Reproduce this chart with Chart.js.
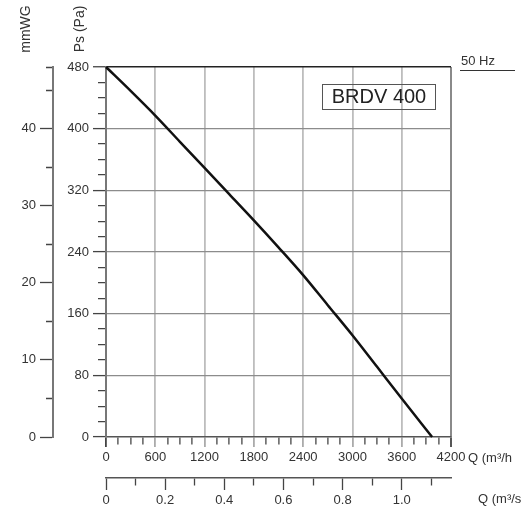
<!DOCTYPE html>
<html>
<head>
<meta charset="utf-8">
<script src="https://cdn.jsdelivr.net/npm/chart.js@4"></script>
<style>
html,body{margin:0;padding:0;background:#fff;}
#wrap{position:relative;width:525px;height:507px;}
</style>
</head>
<body>
<div id="wrap"><canvas id="c"></canvas></div>
<script>
// ---- data ----
const flowM3h   = [0, 300, 600, 900, 1200, 1500, 1800, 2100, 2400, 2700, 3000, 3300, 3600, 3970];
const pressurePa = [480, 449, 417, 383, 349, 315, 281, 246, 210, 171, 132, 91, 50, 0];
const flowTickLabels = [0, 600, 1200, 1800, 2400, 3000, 3600, 4200];
const paTickLabels = [0, 80, 160, 240, 320, 400, 480];
const mmwgTickLabels = [0, 10, 20, 30, 40];
const m3sTickLabels = ['0', '0.2', '0.4', '0.6', '0.8', '1.0'];
const modelName = 'BRDV 400';
const freqLabel = '50 Hz';

const FONT = "'Liberation Sans', Arial, sans-serif";
const TXT = '#333';
const TICK = '#444';

const points = flowM3h.map((x, i) => ({x: x, y: pressurePa[i]}));

const textPlugin = {
  id: 'texts',
  afterDraw(chart) {
    const ctx = chart.ctx;
    const ca = chart.chartArea;
    ctx.save();
    ctx.fillStyle = TXT;
    // rotated axis titles
    ctx.font = '14px ' + FONT;
    ctx.textAlign = 'center';
    ctx.textBaseline = 'middle';
    [['mmWG', 26, 29], ['Ps (Pa)', 80, 29]].forEach(([t, x, y]) => {
      ctx.save(); ctx.translate(x, y); ctx.rotate(-Math.PI / 2); ctx.fillText(t, 0, 0); ctx.restore();
    });
    // Q labels
    ctx.font = '13px ' + FONT;
    ctx.textAlign = 'left';
    ctx.fillText('Q (m³/h', 468, 458);
    ctx.fillText('Q (m³/s', 478, 499);
    // 50 Hz with underline
    ctx.fillText(freqLabel, 461, 61);
    ctx.strokeStyle = '#333';
    ctx.lineWidth = 1;
    ctx.beginPath(); ctx.moveTo(460, 70.5); ctx.lineTo(515, 70.5); ctx.stroke();
    // model box
    ctx.strokeStyle = '#555';
    ctx.lineWidth = 1;
    ctx.strokeRect(322.5, 84.5, 113, 25);
    ctx.fillStyle = '#222';
    ctx.font = '20px ' + FONT;
    ctx.textAlign = 'center';
    ctx.fillText(modelName, 379, 97.5);
    ctx.restore();
  }
};

const isMult = (v, m) => Math.abs(v / m - Math.round(v / m)) < 1e-6;

new Chart(document.getElementById('c'), {
  type: 'line',
  data: {
    datasets: [{
      data: points,
      xAxisID: 'x',
      yAxisID: 'y',
      borderColor: '#111',
      borderWidth: 2.5,
      pointRadius: 0,
      cubicInterpolationMode: 'monotone',
      fill: false,
      clip: false
    }]
  },
  options: {
    responsive: true,
    maintainAspectRatio: false,
    animation: false,
    layout: {padding: {top: 67, right: 74, bottom: 0, left: 0}},
    plugins: {legend: {display: false}, tooltip: {enabled: false}},
    scales: {
      x: {
        type: 'linear', position: 'bottom', weight: 0,
        min: 0, max: 4200,
        afterFit(s) { s.height = 41; },
        border: {color: '#555', width: 1.5},
        grid: {
          drawOnChartArea: true,
          tickLength: 10,
          color: c => {
            const v = c.tick.value;
            if (v === 0) return 'rgba(0,0,0,0)';
            if (v === 4200) return '#8a8a8a';
            return isMult(v, 600) ? '#bdbdbd' : 'rgba(0,0,0,0)';
          },
          lineWidth: c => (c.tick.value === 4200 ? 2 : 1.8),
          tickColor: c => (isMult(c.tick.value, 600) && c.tick.value !== 0 && c.tick.value !== 4200 ? '#aaa' : TICK),
          tickWidth: c => (isMult(c.tick.value, 600) ? 1.8 : 1.3),
          tickBorderDash: c => (isMult(c.tick.value, 600) ? [] : [7, 100])
        },
        ticks: {
          stepSize: 150, autoSkip: false, maxRotation: 0, padding: 3,
          color: TXT, font: {family: FONT, size: 13},
          callback: v => (flowTickLabels.some(t => Math.abs(t - v) < 1e-6) ? String(v) : '')
        }
      },
      x2: {
        type: 'linear', position: 'bottom', weight: 1,
        min: 0, max: 4200 / 3600,
        afterFit(s) { s.height = 29; },
        border: {color: '#555', width: 1.5},
        grid: {
          drawOnChartArea: false,
          tickLength: 12,
          tickColor: TICK,
          tickWidth: 1.3,
          tickBorderDash: c => (Math.round(c.tick.value * 10) % 2 === 0 ? [] : [7, 100])
        },
        ticks: {
          stepSize: 0.1, includeBounds: false, autoSkip: false, maxRotation: 0, padding: 3,
          color: TXT, font: {family: FONT, size: 13},
          callback: v => {
            const n = Math.round(v * 10);
            if (n % 2 !== 0) return '';
            return m3sTickLabels[n / 2] !== undefined ? m3sTickLabels[n / 2] : '';
          }
        }
      },
      y: {
        type: 'linear', position: 'left', weight: 0,
        min: 0, max: 480,
        afterFit(s) { s.width = 53; },
        border: {color: '#777', width: 2},
        grid: {
          drawOnChartArea: true,
          tickLength: 13,
          color: c => {
            const v = c.tick.value;
            if (v === 0) return 'rgba(0,0,0,0)';
            if (v === 480) return '#222';
            return isMult(v, 80) ? '#8c8c8c' : 'rgba(0,0,0,0)';
          },
          lineWidth: c => (c.tick.value === 480 ? 1.5 : 1.2),
          tickColor: TICK,
          tickWidth: 1.3,
          tickBorderDash: c => (isMult(c.tick.value, 80) ? [] : [0, 5, 8, 100])
        },
        ticks: {
          stepSize: 20, autoSkip: false, padding: 4,
          color: TXT, font: {family: FONT, size: 13},
          callback: v => (paTickLabels.some(t => Math.abs(t - v) < 1e-6) ? String(v) : '')
        }
      },
      y2: {
        type: 'linear', position: 'left', weight: 1,
        min: 0, max: 48,
        afterFit(s) { s.width = 53; },
        border: {color: '#777', width: 2},
        grid: {
          drawOnChartArea: false,
          tickLength: 13,
          tickColor: TICK,
          tickWidth: 1.3,
          tickBorderDash: c => (isMult(c.tick.value, 10) ? [] : [0, 6, 7, 100])
        },
        ticks: {
          stepSize: 5, autoSkip: false, padding: 4,
          color: TXT, font: {family: FONT, size: 13},
          callback: v => (mmwgTickLabels.some(t => Math.abs(t - v) < 1e-6) ? String(v) : '')
        }
      }
    }
  },
  plugins: [textPlugin]
});
</script>
</body>
</html>
